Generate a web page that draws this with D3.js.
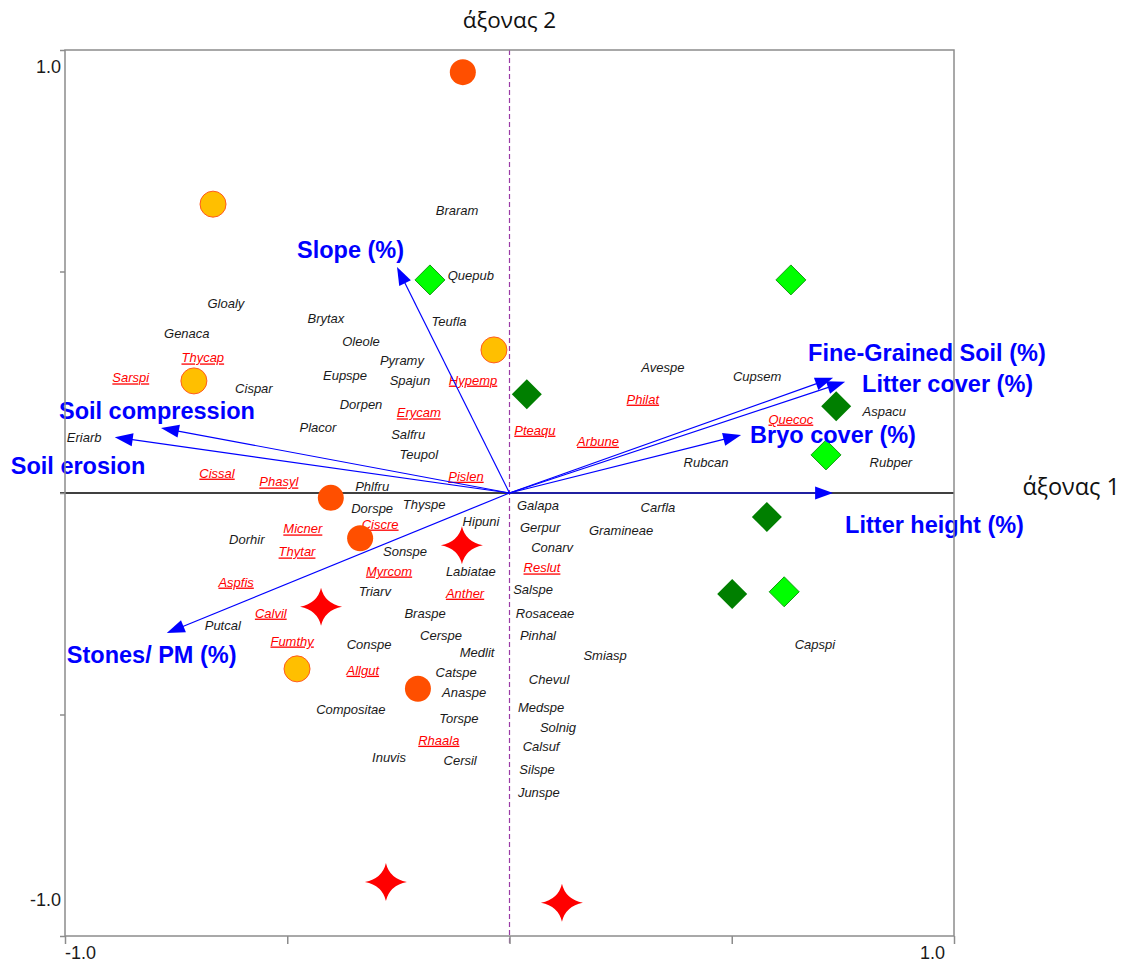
<!DOCTYPE html>
<html>
<head>
<meta charset="utf-8">
<script src="https://cdn.jsdelivr.net/npm/d3@7"></script>
<style>
  html, body { margin: 0; padding: 0; background: #ffffff; }
  svg { display: block; }
</style>
</head>
<body>
<svg id="chart" width="1123" height="964"></svg>
<script>
// ---- Ordination data (axis 1 = x, axis 2 = y) ----
const axisTicks = [-1, -0.5, 0, 0.5, 1];
const tickLabels = ["-1.0", "1.0"];
const axisTitles = ["άξονας 1", "άξονας 2"];

// Environmental variables (biplot arrows)
const envVariables = [
  { name: "Slope (%)",             x: -0.253, y:  0.510 },
  { name: "Soil compression",      x: -0.784, y:  0.147 },
  { name: "Soil erosion",          x: -0.888, y:  0.126 },
  { name: "Stones/ PM (%)",        x: -0.771, y: -0.316 },
  { name: "Fine-Grained Soil (%)", x:  0.728, y:  0.260 },
  { name: "Litter cover (%)",      x:  0.755, y:  0.251 },
  { name: "Bryo cover (%)",        x:  0.521, y:  0.131 },
  { name: "Litter height (%)",     x:  0.728, y:  0.000 }
];

// Sample scores, one array per site group
const groupA = [[-0.667, 0.652], [-0.710, 0.253], [-0.035, 0.323], [-0.478, -0.397]];
const groupB = [[-0.105, 0.950], [-0.402, -0.011], [-0.336, -0.102], [-0.206, -0.442]];
const groupC = [[-0.107, -0.118], [-0.424, -0.257], [-0.278, -0.878], [0.118, -0.925]];
const groupD = [[-0.179, 0.481], [0.633, 0.481], [0.712, 0.086], [0.618, -0.223]];
const groupE = [[0.039, 0.223], [0.735, 0.196], [0.579, -0.054], [0.501, -0.228]];

// Species scores
const species = [
  ["Braram", -0.118, 0.637], ["Quepub", -0.087, 0.492], ["Gloaly", -0.638, 0.429],
  ["Genaca", -0.726, 0.361], ["Brytax", -0.413, 0.393], ["Oleole", -0.334, 0.343],
  ["Teufla", -0.136, 0.388], ["Pyramy", -0.242, 0.300], ["Spajun", -0.224, 0.253],
  ["Eupspe", -0.370, 0.266], ["Cispar", -0.575, 0.237], ["Dorpen", -0.334, 0.199],
  ["Placor", -0.431, 0.147], ["Salfru", -0.228, 0.133], ["Teupol", -0.204, 0.086],
  ["Eriarb", -0.957, 0.126], ["Phlfru", -0.309, 0.014], ["Dorspe", -0.309, -0.034],
  ["Thyspe", -0.192, -0.025], ["Hipuni", -0.064, -0.065], ["Dorhir", -0.591, -0.104],
  ["Sonspe", -0.235, -0.133], ["Labiatae", -0.087, -0.178], ["Triarv", -0.303, -0.223],
  ["Braspe", -0.190, -0.273], ["Putcal", -0.645, -0.300], ["Conspe", -0.316, -0.341],
  ["Cerspe", -0.154, -0.321], ["Medlit", -0.073, -0.361], ["Catspe", -0.120, -0.404],
  ["Anaspe", -0.102, -0.451], ["Compositae", -0.357, -0.488], ["Torspe", -0.114, -0.510],
  ["Inuvis", -0.271, -0.596], ["Cersil", -0.111, -0.603], ["Galapa", 0.064, -0.029],
  ["Gerpur", 0.069, -0.077], ["Conarv", 0.096, -0.124], ["Salspe", 0.053, -0.217],
  ["Rosaceae", 0.080, -0.271], ["Pinhal", 0.064, -0.321], ["Smiasp", 0.215, -0.366],
  ["Chevul", 0.089, -0.420], ["Medspe", 0.071, -0.483], ["Solnig", 0.109, -0.530],
  ["Calsuf", 0.071, -0.573], ["Silspe", 0.062, -0.625], ["Junspe", 0.066, -0.677],
  ["Carfla", 0.334, -0.032], ["Gramineae", 0.251, -0.084], ["Avespe", 0.345, 0.284],
  ["Cupsem", 0.557, 0.264], ["Aspacu", 0.843, 0.185], ["Rubcan", 0.442, 0.068],
  ["Rubper", 0.858, 0.068], ["Capspi", 0.687, -0.341]
];

// Species highlighted (underlined, red)
const indicatorSpecies = [
  ["Thycap", -0.690, 0.305], ["Sarspi", -0.852, 0.260], ["Hypemp", -0.082, 0.255],
  ["Erycam", -0.204, 0.181], ["Pteaqu", 0.057, 0.142], ["Philat", 0.300, 0.212],
  ["Arbune", 0.199, 0.117], ["Quecoc", 0.633, 0.167], ["Cissal", -0.658, 0.045],
  ["Phasyl", -0.519, 0.025], ["Pislen", -0.098, 0.038], ["Micner", -0.465, -0.081],
  ["Ciscre", -0.291, -0.070], ["Thytar", -0.478, -0.133], ["Myrcom", -0.271, -0.176],
  ["Reslut", 0.073, -0.169], ["Aspfis", -0.615, -0.201], ["Anther", -0.100, -0.226],
  ["Calvil", -0.537, -0.271], ["Fumthy", -0.489, -0.334], ["Allgut", -0.330, -0.400],
  ["Rhaala", -0.159, -0.558]
];

// ---- Layout ----
const svg = d3.select("#chart");
const x = d3.scaleLinear().domain([-1, 1]).range([65, 954]);
const y = d3.scaleLinear().domain([-1, 1]).range([936, 50]);

const FONT = "'Liberation Sans', Arial, Helvetica, sans-serif";
const TITLE_FONT = "'Open Sans', 'Noto Sans', sans-serif";
const BLUE = "#0000ff";
const FRAME = "#8c8c8c";

// Pixel offsets of each arrow label (left edge, baseline) from its arrow tip
const envLabelOffset = {
  "Slope (%)": [-100, -9],
  "Soil compression": [-102, -9],
  "Soil erosion": [-104, 37],
  "Stones/ PM (%)": [-100, 30],
  "Fine-Grained Soil (%)": [-25, -17],
  "Litter cover (%)": [17, 10],
  "Bryo cover (%)": [9, 8],
  "Litter height (%)": [12, 40]
};

// ---- Zero lines ----
svg.append("line")
  .attr("x1", x(-1) - 5).attr("x2", x(1))
  .attr("y1", y(0)).attr("y2", y(0))
  .attr("stroke", "#000").attr("stroke-width", 1.5);

svg.append("line")
  .attr("x1", x(0)).attr("x2", x(0))
  .attr("y1", y(1)).attr("y2", y(-1) + 8)
  .attr("stroke", "#9a3aa6").attr("stroke-width", 1.2)
  .attr("stroke-dasharray", "5,3");

// ---- Species labels ----
const spG = svg.append("g").attr("font-family", FONT).attr("font-size", 13)
  .attr("font-style", "italic");

spG.selectAll("text.sp").data(species).join("text")
  .attr("class", "sp")
  .attr("x", d => x(d[1])).attr("y", d => y(d[2]))
  .attr("dy", "0.35em").attr("text-anchor", "middle")
  .attr("fill", "#1a1a1a")
  .text(d => d[0]);

spG.selectAll("text.ind").data(indicatorSpecies).join("text")
  .attr("class", "ind")
  .attr("x", d => x(d[1])).attr("y", d => y(d[2]))
  .attr("dy", "0.35em").attr("text-anchor", "middle")
  .attr("fill", "#ff0000")
  .style("text-decoration", "underline")
  .text(d => d[0]);

// ---- Environmental arrows ----
const arrowG = svg.append("g");
const headLen = 18, headHalf = 6.5;
envVariables.forEach(v => {
  const x0 = x(0), y0 = y(0), x1 = x(v.x), y1 = y(v.y);
  const dx = x1 - x0, dy = y1 - y0, len = Math.hypot(dx, dy);
  const ux = dx / len, uy = dy / len;
  const bx = x1 - ux * headLen, by = y1 - uy * headLen;
  arrowG.append("line")
    .attr("x1", x0).attr("y1", y0).attr("x2", bx + ux * 2).attr("y2", by + uy * 2)
    .attr("stroke", BLUE).attr("stroke-width", 1.2);
  arrowG.append("path")
    .attr("d", d3.line()([
      [x1, y1],
      [bx - uy * headHalf, by + ux * headHalf],
      [bx + uy * headHalf, by - ux * headHalf]
    ]) + "Z")
    .attr("fill", BLUE);
});

// ---- Site markers ----
const markG = svg.append("g");
markG.selectAll("circle.a").data(groupA).join("circle")
  .attr("cx", d => x(d[0])).attr("cy", d => y(d[1])).attr("r", 13)
  .attr("fill", "#ffbf00").attr("stroke", "#ff5a1e").attr("stroke-width", 1);

markG.selectAll("circle.b").data(groupB).join("circle")
  .attr("cx", d => x(d[0])).attr("cy", d => y(d[1])).attr("r", 13)
  .attr("fill", "#ff4f00");

// four-pointed star with concave sides
const star = d3.path();
const tips = [[0, -19], [21, 0], [0, 19], [-21, 0]];
const ctrl = [[3.5, -3.5], [3.5, 3.5], [-3.5, 3.5], [-3.5, -3.5]];
star.moveTo(tips[0][0], tips[0][1]);
for (let i = 0; i < 4; i++) {
  const t = tips[(i + 1) % 4];
  star.quadraticCurveTo(ctrl[i][0], ctrl[i][1], t[0], t[1]);
}
star.closePath();
const starPath = star.toString();
markG.selectAll("path.c").data(groupC).join("path")
  .attr("transform", d => `translate(${x(d[0])},${y(d[1])})`)
  .attr("d", starPath).attr("fill", "#ff0000");

const diamondPath = d3.line()([[0, -15], [15, 0], [0, 15], [-15, 0]]) + "Z";
markG.selectAll("path.d").data(groupD).join("path")
  .attr("transform", d => `translate(${x(d[0])},${y(d[1])})`)
  .attr("d", diamondPath).attr("fill", "#00ff00")
  .attr("stroke", "#139b13").attr("stroke-width", 1);

markG.selectAll("path.e").data(groupE).join("path")
  .attr("transform", d => `translate(${x(d[0])},${y(d[1])})`)
  .attr("d", diamondPath).attr("fill", "#007f00");

// ---- Arrow labels ----
svg.append("g").attr("font-family", FONT).attr("font-size", 23.5)
  .attr("font-weight", "bold").attr("fill", BLUE)
  .selectAll("text").data(envVariables).join("text")
  .attr("x", d => x(d.x) + envLabelOffset[d.name][0])
  .attr("y", d => y(d.y) + envLabelOffset[d.name][1])
  .text(d => d.name);

// ---- Frame and ticks ----
svg.append("rect")
  .attr("x", x(-1)).attr("y", y(1))
  .attr("width", x(1) - x(-1)).attr("height", y(-1) - y(1))
  .attr("fill", "none").attr("stroke", FRAME).attr("stroke-width", 1.5);

const bottomAxis = svg.append("g")
  .attr("transform", `translate(0,${y(-1)})`)
  .call(d3.axisBottom(x).tickValues(axisTicks).tickSize(8).tickFormat(""));
const leftAxis = svg.append("g")
  .attr("transform", `translate(${x(-1)},0)`)
  .call(d3.axisLeft(y).tickValues(axisTicks).tickSize(5).tickFormat(""));
[bottomAxis, leftAxis].forEach(g => {
  g.select(".domain").remove();
  g.selectAll(".tick line").attr("stroke", FRAME).attr("stroke-width", 1.5);
});

// ---- Tick labels ----
const tl = svg.append("g").attr("font-family", FONT).attr("font-size", 18).attr("fill", "#1a1a1a");
tl.append("text").attr("x", x(-1)).attr("y", 959).attr("text-anchor", "start").text(tickLabels[0]);
tl.append("text").attr("x", x(1) - 9).attr("y", 959).attr("text-anchor", "end").text(tickLabels[1]);
tl.append("text").attr("x", x(-1) - 4).attr("y", y(1) + 23).attr("text-anchor", "end").text(tickLabels[1]);
tl.append("text").attr("x", x(-1) - 4).attr("y", y(-1) - 30).attr("text-anchor", "end").text(tickLabels[0]);

// ---- Axis titles ----
svg.append("text").attr("x", x(0)).attr("y", 28).attr("text-anchor", "middle")
  .attr("font-family", TITLE_FONT).attr("font-size", 22.5).attr("fill", "#111")
  .text(axisTitles[1]);
svg.append("text").attr("x", 1120).attr("y", y(0) + 2).attr("text-anchor", "end")
  .attr("font-family", TITLE_FONT).attr("font-size", 23.5).attr("fill", "#111")
  .text(axisTitles[0]);
</script>
</body>
</html>
